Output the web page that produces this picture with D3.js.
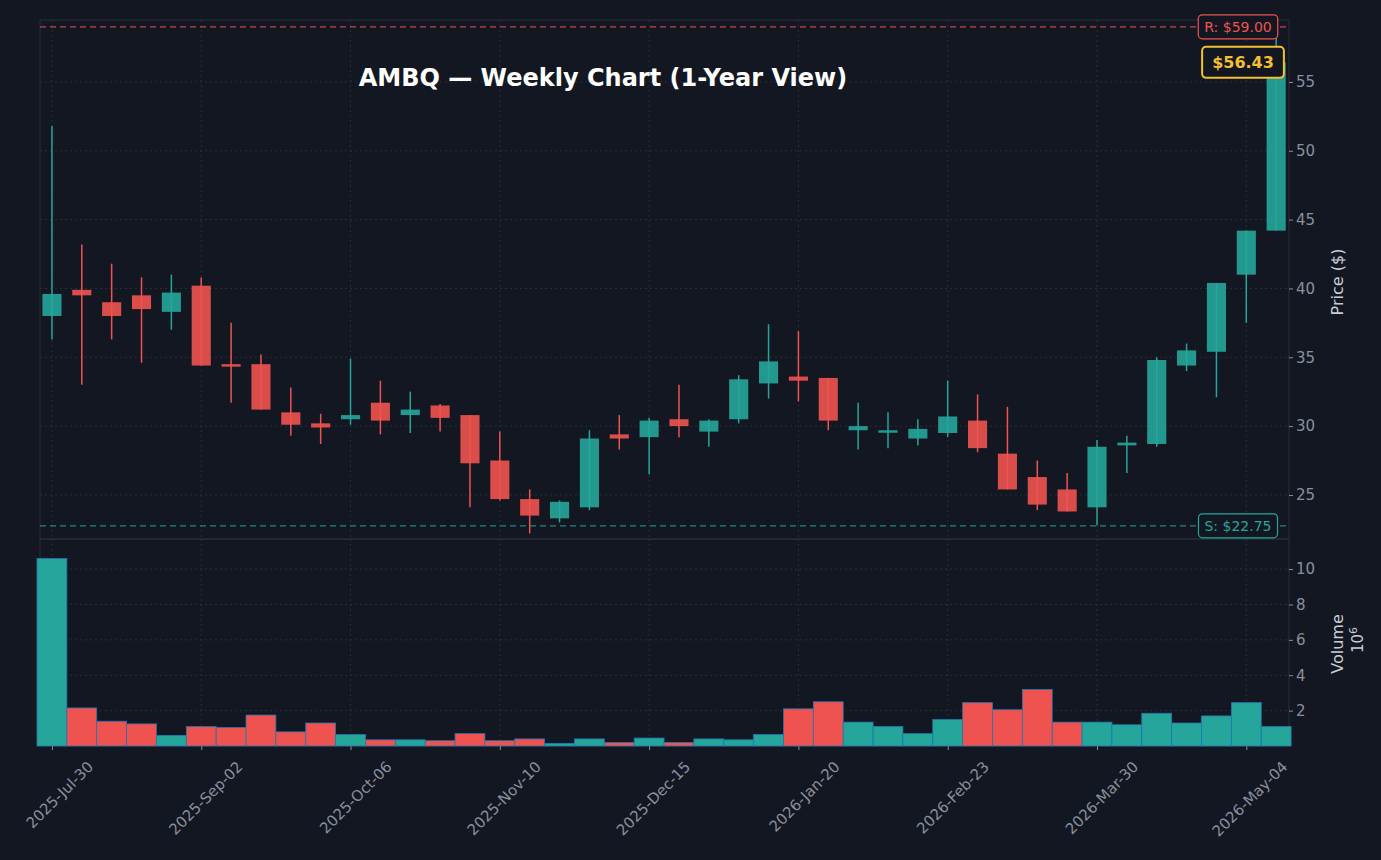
<!DOCTYPE html>
<html><head><meta charset="utf-8">
<script src="https://cdn.jsdelivr.net/npm/d3@7"></script>
<style>body{margin:0;background:#131722;}text{font-family:"DejaVu Sans",sans-serif;}</style>
</head><body><svg id="c" width="1381" height="860"></svg>
<script>
const opens  = [38.0,39.9,39.0,39.5,38.3,40.2,34.5,34.5,31.0,30.2,30.5,31.7,30.8,31.5,30.8,27.5,24.7,23.3,24.1,29.4,29.2,30.5,29.6,30.5,33.1,33.6,33.5,29.7,29.6,29.1,29.5,30.4,28.0,26.3,25.4,24.1,28.6,28.7,34.4,35.4,41.0,44.2];
const closes = [39.6,39.5,38.0,38.5,39.7,34.4,34.4,31.2,30.1,29.9,30.8,30.4,31.2,30.6,27.3,24.7,23.5,24.5,29.1,29.1,30.4,30.0,30.4,33.4,34.7,33.3,30.4,30.0,29.7,29.8,30.7,28.4,25.4,24.3,23.8,28.5,28.8,34.8,35.5,40.4,44.2,56.43];
const highs  = [51.8,43.2,41.8,40.8,41.0,40.8,37.5,35.2,32.8,30.9,34.9,33.3,32.5,31.6,30.8,29.6,25.4,24.6,29.7,30.8,30.6,33.0,30.5,33.7,37.4,36.9,33.5,31.7,31.0,30.5,33.3,32.3,31.4,27.5,26.6,29.0,29.3,35.0,36.0,40.4,44.2,59.0];
const lows   = [36.3,33.0,36.3,34.6,37.0,34.4,31.7,31.2,29.3,28.7,30.1,29.4,29.5,29.6,24.1,24.6,22.2,23.0,23.9,28.3,26.5,29.2,28.5,30.2,32.0,31.8,29.7,28.3,28.4,28.6,29.2,28.1,25.4,23.9,23.8,22.8,26.6,28.5,34.0,32.1,37.5,44.2];
const volumes= [10.6,2.15,1.4,1.25,0.6,1.1,1.05,1.75,0.8,1.3,0.65,0.35,0.35,0.3,0.7,0.3,0.4,0.15,0.4,0.2,0.45,0.2,0.4,0.35,0.65,2.1,2.5,1.35,1.1,0.7,1.5,2.45,2.05,3.2,1.35,1.35,1.2,1.85,1.3,1.7,2.45,1.1];
const tickIdx = [0,5,10,15,20,25,30,35,40];
const tickLabels = ["2025-Jul-30","2025-Sep-02","2025-Oct-06","2025-Nov-10","2025-Dec-15","2026-Jan-20","2026-Feb-23","2026-Mar-30","2026-May-04"];
const priceTicks=[25,30,35,40,45,50,55], volTicks=[2,4,6,8,10];
const resistance=59.00, support=22.75, last=56.43;

const svg=d3.select("#c");
const L=40,R=1289,PT=20,PB=539,VT=539,VB=746;
const up="#26a69a", dn="#ef5350", grid="#2a2e39", txt="#8a8f9c";
const x=d3.scaleLinear().domain([-0.4,41.43]).range([L,R]);
const y=d3.scaleLinear().domain([21.8,59.5]).range([PB,PT]);
const yv=d3.scaleLinear().domain([0,11.7]).range([VB,VT]);
const bw=x(1)-x(0);

svg.append("rect").attr("x",L).attr("y",PT).attr("width",R-L).attr("height",PB-PT).attr("fill","none").attr("stroke","#2a2e39");
svg.append("rect").attr("x",L).attr("y",VT).attr("width",R-L).attr("height",VB-VT).attr("fill","none").attr("stroke","#2a2e39");
const g=svg.append("g").attr("stroke",grid).attr("stroke-dasharray","2,3");
priceTicks.forEach(t=>g.append("line").attr("x1",L).attr("x2",R).attr("y1",y(t)).attr("y2",y(t)));
volTicks.forEach(t=>g.append("line").attr("x1",L).attr("x2",R).attr("y1",yv(t)).attr("y2",yv(t)));
tickIdx.forEach(i=>{g.append("line").attr("x1",x(i)).attr("x2",x(i)).attr("y1",PT).attr("y2",PB);g.append("line").attr("x1",x(i)).attr("x2",x(i)).attr("y1",VT).attr("y2",VB);});

const ya=svg.append("g").attr("transform",`translate(${R},0)`).call(d3.axisRight(y).tickValues(priceTicks).tickSize(4).tickFormat(d3.format("d")));
const va=svg.append("g").attr("transform",`translate(${R},0)`).call(d3.axisRight(yv).tickValues(volTicks).tickSize(4).tickFormat(d3.format("d")));
const xa=svg.append("g").attr("transform",`translate(0,${VB})`).call(d3.axisBottom(x).tickValues(tickIdx).tickSize(4).tickFormat((d,i)=>tickLabels[i]));
[ya,va,xa].forEach(a=>{a.select(".domain").remove();a.selectAll("line").attr("stroke",txt);a.selectAll("text").attr("fill",txt).attr("font-size",15);});
xa.selectAll("text").attr("text-anchor","end").attr("x",0).attr("y",0).attr("dy","0.35em").attr("transform","translate(38,18) rotate(-45)");

svg.append("g").selectAll("rect").data(volumes).join("rect")
 .attr("x",(d,i)=>x(i)-bw/2).attr("width",bw).attr("y",d=>yv(d)).attr("height",d=>yv(0)-yv(d))
 .attr("fill",(d,i)=>closes[i]>=opens[i]?up:dn).attr("stroke","#1f77b4").attr("stroke-width",0.8);

const cg=svg.append("g");
opens.forEach((o,i)=>{
 const c=closes[i],colr=c>=o?"#26a69a":"#ef5350";
 cg.append("line").attr("x1",x(i)).attr("x2",x(i)).attr("y1",y(highs[i])).attr("y2",y(lows[i])).attr("stroke",colr).attr("stroke-width",1.5);
 const t=y(Math.max(o,c)),b=y(Math.min(o,c));
 cg.append("rect").attr("x",x(i)-bw*0.32).attr("width",bw*0.64).attr("y",t).attr("height",Math.max(2.5,b-t)).attr("fill",colr).attr("opacity",0.9);
});

svg.append("line").attr("x1",L).attr("x2",R).attr("y1",y(resistance)).attr("y2",y(resistance)).attr("stroke",dn).attr("stroke-dasharray","6,4").attr("stroke-width",1.3).attr("opacity",0.8);
svg.append("line").attr("x1",L).attr("x2",R).attr("y1",y(support)).attr("y2",y(support)).attr("stroke",up).attr("stroke-dasharray","6,4").attr("stroke-width",1.3).attr("opacity",0.8);
function tag(val,label,col,bold,fs,cx,pad){
 const gg=svg.append("g");
 const r=gg.append("rect");
 const t=gg.append("text").attr("x",cx).attr("y",y(val)).attr("dy","0.35em").attr("text-anchor","middle").attr("fill",col).attr("font-size",fs).attr("font-weight",bold?"bold":"normal").text(label);
 const bb=t.node().getBBox();
 r.attr("x",bb.x-pad).attr("y",bb.y-pad/2-1).attr("width",bb.width+2*pad).attr("height",bb.height+pad+2).attr("rx",4).attr("fill","#131722").attr("stroke",col).attr("stroke-width",bold?2:1.2);
}
tag(resistance,"R: $59.00",dn,false,14,1238,6);
tag(support,"S: $22.75",up,false,14,1238,6);
tag(last,"$56.43","#f5c02e",true,16,1243,10);

svg.append("text").attr("x",603).attr("y",86).attr("text-anchor","middle").attr("fill","#ffffff").attr("font-size",24).attr("font-weight","bold").text("AMBQ — Weekly Chart (1-Year View)");
svg.append("text").attr("transform","translate(1343,282) rotate(-90)").attr("text-anchor","middle").attr("fill","#c8ccd6").attr("font-size",16).text("Price ($)");
svg.append("text").attr("transform","translate(1343,644) rotate(-90)").attr("text-anchor","middle").attr("fill","#c8ccd6").attr("font-size",16).text("Volume");
const e=svg.append("text").attr("transform","translate(1363,640) rotate(-90)").attr("text-anchor","middle").attr("fill","#c8ccd6").attr("font-size",15);
e.append("tspan").text("10");e.append("tspan").attr("dy",-6).attr("font-size",11).text("6");
</script></body></html>
